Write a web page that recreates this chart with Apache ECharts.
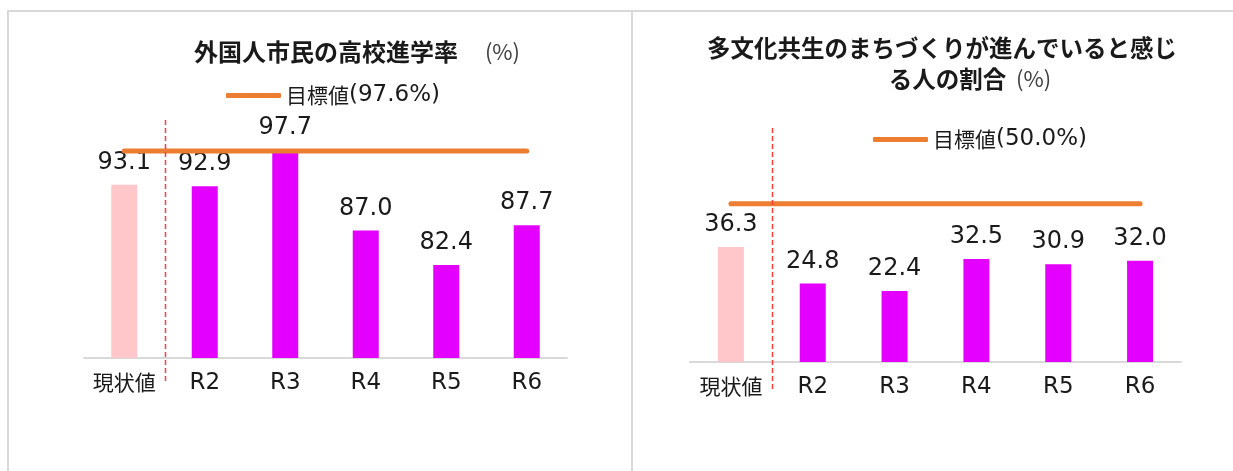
<!DOCTYPE html>
<html>
<head>
<meta charset="utf-8">
<script src="https://cdn.jsdelivr.net/npm/echarts@6/dist/echarts.min.js"></script>
<style>
  html, body { margin: 0; padding: 0; background: #fff; }
  #main { width: 1233px; height: 471px; }
</style>
</head>
<body>
<div id="main"></div>
<script>
// データ
const categories = ['現状値', 'R2', 'R3', 'R4', 'R5', 'R6'];
const rateValues = [93.1, 92.9, 97.7, 87.0, 82.4, 87.7];      // 外国人市民の高校進学率
const rateTarget = [97.6, 97.6, 97.6, 97.6, 97.6, 97.6];
const shareValues = [36.3, 24.8, 22.4, 32.5, 30.9, 32.0];     // 多文化共生のまちづくり
const shareTarget = [50.0, 50.0, 50.0, 50.0, 50.0, 50.0];

const FONT = '"Noto Sans CJK JP", "Noto Sans", sans-serif';
const NUM_FONT = '"DejaVu Sans", "Noto Sans CJK JP", sans-serif';  // 数字は少し幅広
const PINK = '#FFC7C9';
const MAGENTA = '#E400FF';
const ORANGE = '#ED7D31';
const FRAME = '#D9D9D9';
const TEXT = '#1a1a1a';

function barData(values) {
  // 現状値だけ薄いピンク
  return values.map((v, i) => ({
    value: v,
    itemStyle: { color: i === 0 ? PINK : MAGENTA }
  }));
}

function xAxisOf(gridIndex) {
  return {
    type: 'category',
    gridIndex: gridIndex,
    data: categories,
    axisTick: { show: false },
    axisLine: { lineStyle: { color: FRAME, width: 2 } },
    axisLabel: {
      interval: 0,
      margin: 14,
      fontSize: 23,
      color: TEXT,
      fontFamily: NUM_FONT,
      formatter: v => /^R/.test(v) ? v : '{j|' + v + '}',
      rich: { j: { fontSize: 21, fontFamily: FONT, color: TEXT } }
    }
  };
}

function yAxisOf(gridIndex, min, max) {
  return { type: 'value', gridIndex: gridIndex, min: min, max: max, show: false, splitLine: { show: false } };
}

function barSeries(idx, values) {
  return {
    type: 'bar',
    xAxisIndex: idx,
    yAxisIndex: idx,
    barWidth: 26,
    data: barData(values),
    label: {
      show: true,
      position: 'top',
      distance: 10,
      fontSize: 24,
      color: TEXT,
      fontFamily: NUM_FONT,
      formatter: p => p.value.toFixed(1)
    },
    z: 2
  };
}

function targetSeries(idx, name, values) {
  return {
    name: name,
    type: 'line',
    xAxisIndex: idx,
    yAxisIndex: idx,
    data: values,
    symbol: 'none',
    itemStyle: { color: ORANGE },
    lineStyle: { color: ORANGE, width: 5, cap: 'round' },
    z: 3
  };
}

function legendOf(name, left, top) {
  return {
    data: [name],
    left: left,
    top: top,
    padding: 0,
    icon: 'roundRect',
    itemWidth: 55,
    itemHeight: 5,
    formatter: n => n.replace(/^(目標値)(.*)$/, '{j|$1}{n|$2}'),
    textStyle: {
      color: TEXT,
      rich: {
        j: { fontSize: 21, fontFamily: FONT, color: TEXT },
        n: { fontSize: 23, fontFamily: NUM_FONT, color: TEXT }
      }
    }
  };
}

const myChart = echarts.init(document.getElementById('main'));

const option = {
  animation: false,
  grid: [
    { left: 84, width: 483, top: 133, bottom: 113 },
    { left: 690, width: 491, top: 172, bottom: 109 }
  ],
  xAxis: [xAxisOf(0), xAxisOf(1)],
  yAxis: [yAxisOf(0, 70, 100), yAxisOf(1, 0, 60)],
  legend: [
    legendOf('目標値(97.6%)', 226, 84),
    legendOf('目標値(50.0%)', 873, 128)
  ],
  series: [
    barSeries(0, rateValues),
    targetSeries(0, '目標値(97.6%)', rateTarget),
    barSeries(1, shareValues),
    targetSeries(1, '目標値(50.0%)', shareTarget)
  ],
  graphic: [
    // 枠線
    { id: 'frameTop', type: 'rect', shape: { x: 7, y: 10, width: 1226, height: 2 }, style: { fill: FRAME }, silent: true },
    { id: 'frameLeft', type: 'rect', shape: { x: 7, y: 10, width: 2, height: 461 }, style: { fill: FRAME }, silent: true },
    { id: 'frameMid', type: 'rect', shape: { x: 631, y: 10, width: 2, height: 461 }, style: { fill: FRAME }, silent: true },
    // タイトル
    {
      id: 'title1', type: 'text', x: 357, y: 52,
      style: {
        text: '{b|外国人市民の高校進学率}{n|　 (%)}',
        align: 'center', verticalAlign: 'middle',
        rich: {
          b: { fontSize: 24, fontWeight: 'bold', fontFamily: FONT, fill: TEXT },
          n: { fontSize: 22, fontFamily: FONT, fill: '#404040' }
        }
      }
    },
    {
      id: 'title2a', type: 'text', x: 942, y: 48,
      style: {
        text: '多文化共生のまちづくりが進んでいると感じ',
        align: 'center', verticalAlign: 'middle',
        fontSize: 23.5, fontWeight: 'bold', fontFamily: FONT, fill: TEXT
      }
    },
    {
      id: 'title2b', type: 'text', x: 970, y: 79,
      style: {
        text: '{b|る人の割合}{n|  (%)}',
        align: 'center', verticalAlign: 'middle',
        rich: {
          b: { fontSize: 23.5, fontWeight: 'bold', fontFamily: FONT, fill: TEXT },
          n: { fontSize: 22, fontFamily: FONT, fill: '#404040' }
        }
      }
    }
  ]
};
myChart.setOption(option);

// 現状値と R2 の間の赤い点線
function dividerOf(idx, top, below) {
  const x0 = myChart.convertToPixel({ xAxisIndex: idx }, categories[0]);
  const x1 = myChart.convertToPixel({ xAxisIndex: idx }, categories[1]);
  const base = myChart.convertToPixel({ yAxisIndex: idx }, idx === 0 ? 70 : 0);
  const x = Math.round((x0 + x1) / 2) + 0.5;
  return {
    id: 'divider' + idx, type: 'line',
    shape: { x1: x, y1: top, x2: x, y2: base + below },
    style: { stroke: '#FF3B3B', lineWidth: 1.5, lineDash: [5, 3] },
    silent: true, z: 10
  };
}
myChart.setOption({
  graphic: [dividerOf(0, 120, 25), dividerOf(1, 128, 30)]
});

window.addEventListener('resize', function () {
  myChart.resize();
});
</script>
</body>
</html>
